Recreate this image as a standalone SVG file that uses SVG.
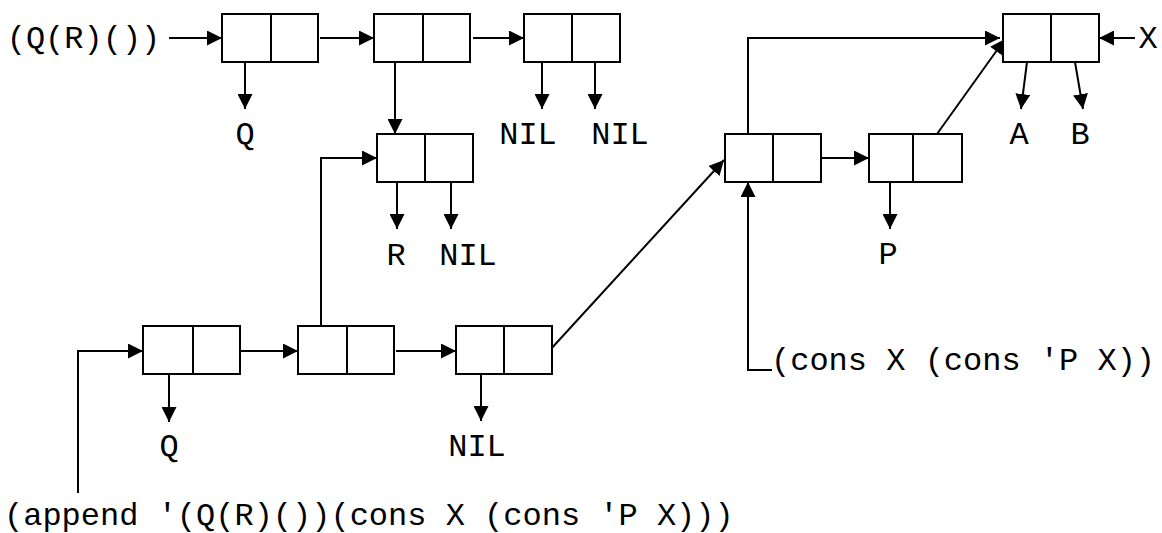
<svg xmlns="http://www.w3.org/2000/svg" width="1162" height="533" viewBox="0 0 1162 533">
<style>
.box{fill:#fff;stroke:#000;stroke-width:2}
.div{stroke:#000;stroke-width:2}
.ln{fill:none;stroke:#000;stroke-width:2;marker-end:url(#ah)}
.t{font-family:"Liberation Mono","DejaVu Sans Mono",monospace;font-size:32px;fill:#000}
.m{text-anchor:middle}
</style>
<defs>
<marker id="ah" markerWidth="15" markerHeight="15" refX="15" refY="7.5" orient="auto" markerUnits="userSpaceOnUse"><path d="M0,0 L15,7.5 L0,15 z" fill="#000"/></marker>
</defs>
<rect width="1162" height="533" fill="#fff"/>
<g id="connectors">
<path class="ln" d="M169,38 H222"/>
<path class="ln" d="M320,38 H374"/>
<path class="ln" d="M473,38 H524"/>
<path class="ln" d="M245,62 V109"/>
<path class="ln" d="M395,62 V134"/>
<path class="ln" d="M542,62 V109"/>
<path class="ln" d="M595,62 V109"/>
<path class="ln" d="M397,182 V229"/>
<path class="ln" d="M451,182 V229"/>
<path class="ln" d="M78,493 V351 H143"/>
<path class="ln" d="M237,351 H298"/>
<path class="ln" d="M396,351 H456"/>
<path class="ln" d="M321,326 V158 H377"/>
<path class="ln" d="M169,374 V422"/>
<path class="ln" d="M481,374 V421"/>
<path class="ln" d="M550,350 L724,160"/>
<path class="ln" d="M772,370 H748 V182"/>
<path class="ln" d="M748,134 V38 H1000"/>
<path class="ln" d="M822,158 H869"/>
<path class="ln" d="M890,182 V229"/>
<path class="ln" d="M937,134 L1005,39"/>
<path class="ln" d="M1027,62 L1021,109"/>
<path class="ln" d="M1075,62 L1083,109"/>
<path class="ln" d="M1135,38 H1099"/>
</g>
<g id="cell-top1"><rect class="box" x="222" y="14" width="96" height="48"/><line class="div" x1="271" y1="14" x2="271" y2="62"/></g>
<g id="cell-top2"><rect class="box" x="374" y="14" width="96" height="48"/><line class="div" x1="423" y1="14" x2="423" y2="62"/></g>
<g id="cell-top3"><rect class="box" x="524" y="14" width="96" height="48"/><line class="div" x1="572" y1="14" x2="572" y2="62"/></g>
<g id="cell-r"><rect class="box" x="377" y="134" width="96" height="48"/><line class="div" x1="425" y1="134" x2="425" y2="182"/></g>
<g id="cell-ab"><rect class="box" x="1003" y="14" width="96" height="48"/><line class="div" x1="1051" y1="14" x2="1051" y2="62"/></g>
<g id="cell-x"><rect class="box" x="725" y="134" width="96" height="48"/><line class="div" x1="773" y1="134" x2="773" y2="182"/></g>
<g id="cell-p"><rect class="box" x="869" y="134" width="93" height="48"/><line class="div" x1="913" y1="134" x2="913" y2="182"/></g>
<g id="cell-b1"><rect class="box" x="143" y="326" width="97" height="48"/><line class="div" x1="193" y1="326" x2="193" y2="374"/></g>
<g id="cell-b2"><rect class="box" x="298" y="326" width="96" height="48"/><line class="div" x1="347" y1="326" x2="347" y2="374"/></g>
<g id="cell-b3"><rect class="box" x="456" y="326" width="96" height="48"/><line class="div" x1="504" y1="326" x2="504" y2="374"/></g>
<g id="lbl-list"><text class="t m" x="83.5" y="48">(Q(R)())</text></g>
<g id="lbl-q1"><text class="t m" x="245" y="144">Q</text></g>
<g id="lbl-nil1"><text class="t m" x="528" y="144">NIL</text></g>
<g id="lbl-nil2"><text class="t m" x="620" y="144">NIL</text></g>
<g id="lbl-r"><text class="t m" x="396" y="265">R</text></g>
<g id="lbl-nil3"><text class="t m" x="468" y="265">NIL</text></g>
<g id="lbl-a"><text class="t m" x="1019" y="144">A</text></g>
<g id="lbl-b"><text class="t m" x="1080" y="144">B</text></g>
<g id="lbl-x"><text class="t m" x="1148" y="48">X</text></g>
<g id="lbl-p"><text class="t m" x="888" y="264">P</text></g>
<g id="lbl-q2"><text class="t m" x="169" y="456">Q</text></g>
<g id="lbl-nil4"><text class="t m" x="477" y="456">NIL</text></g>
<g id="lbl-cons"><text class="t" x="771" y="370">(cons X (cons 'P X))</text></g>
<g id="lbl-append"><text class="t" x="4" y="525">(append '(Q(R)())(cons X (cons 'P X)))</text></g>
</svg>
